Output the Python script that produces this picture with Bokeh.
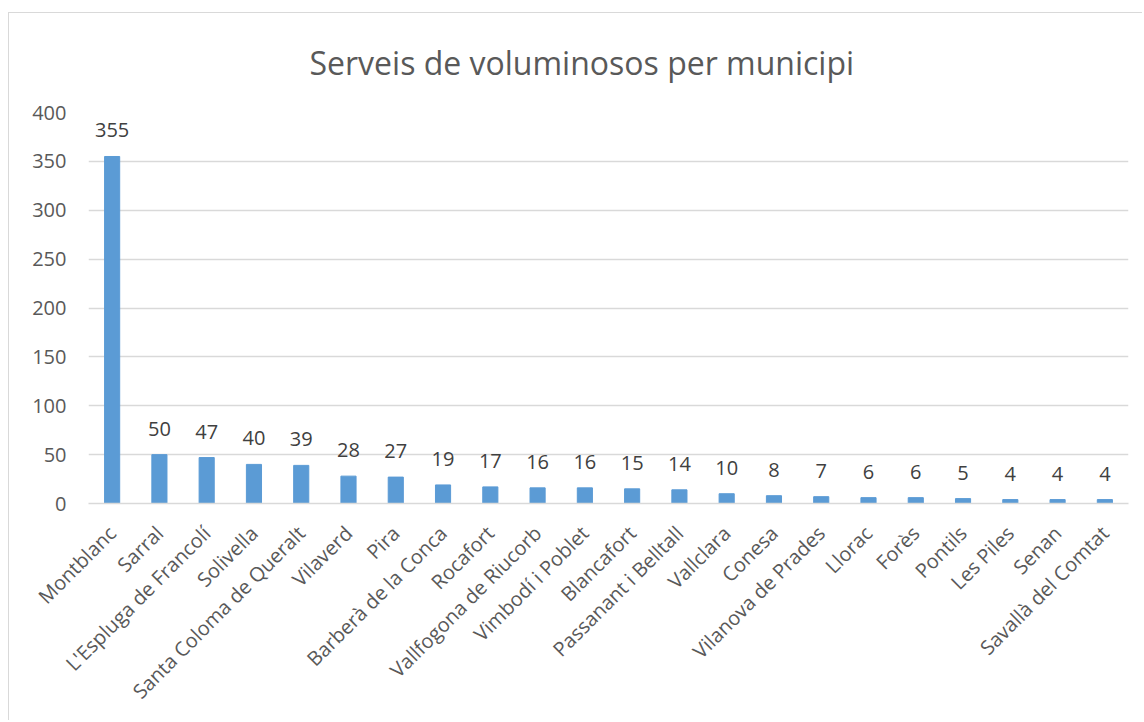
from bokeh.plotting import figure
from bokeh.models import Range1d, FactorRange, FixedTicker, ColumnDataSource
from bokeh.core.properties import value
from bokeh.embed import file_html
from bokeh.resources import INLINE
import math

municipis = ["Montblanc", "Sarral", "L'Espluga de Francolí", "Solivella", "Santa Coloma de Queralt",
             "Vilaverd", "Pira", "Barberà de la Conca", "Rocafort", "Vallfogona de Riucorb",
             "Vimbodí i Poblet", "Blancafort", "Passanant i Belltall", "Vallclara", "Conesa",
             "Vilanova de Prades", "Llorac", "Forès", "Pontils", "Les Piles", "Senan",
             "Savallà del Comtat"]
serveis = [355, 50, 47, 40, 39, 28, 27, 19, 17, 16, 16, 15, 14, 10, 8, 7, 6, 6, 5, 4, 4, 4]
y_ticks = [0, 50, 100, 150, 200, 250, 300, 350, 400]
titol = "Serveis de voluminosos per municipi"

FONT = "Open Sans"
GREY = "#595959"

src = ColumnDataSource(dict(x=municipis, y=serveis, lab=[str(v) for v in serveis]))

p = figure(x_range=FactorRange(*municipis, range_padding=0), y_range=Range1d(0, 400),
           width=1134, height=708, output_backend="svg", toolbar_location=None,
           min_border_left=79, min_border_right=15, min_border_top=99, min_border_bottom=218)
p.styles = {"border-left": "1px solid #d9d9d9", "border-top": "1px solid #d9d9d9",
            "margin-top": "12px", "margin-left": "8px"}

p.title.text = titol
p.title.align = "left"
p.title.offset = 221
p.title.text_font = FONT
p.title.text_font_size = "32px"
p.title.text_font_style = "normal"
p.title.text_color = GREY
p.title.vertical_align = "top"
p.title.standoff = 54

p.vbar(x="x", top="y", width=0.32, source=src, color="#5b9bd5")
p.text(x="x", y="y", text="lab", source=src, text_align="center", text_baseline="alphabetic",
       y_offset=-26, text_font=value(FONT), text_font_size="20px", text_color="#404040")

p.outline_line_color = None
p.background_fill_color = "white"
p.border_fill_color = "white"

p.yaxis.ticker = FixedTicker(ticks=y_ticks)
p.yaxis.axis_line_color = None
p.yaxis.major_tick_line_color = None
p.yaxis.minor_tick_line_color = None
p.yaxis.major_label_text_font = FONT
p.yaxis.major_label_text_font_size = "20px"
p.yaxis.major_label_text_color = GREY
p.yaxis.major_label_standoff = 16

p.xaxis.axis_line_color = "#d9d9d9"
p.xaxis.axis_line_width = 1.5
p.xaxis.major_tick_line_color = None
p.xaxis.minor_tick_line_color = None
p.xaxis.major_label_orientation = math.pi / 4
p.xaxis.major_label_text_font = FONT
p.xaxis.major_label_text_font_size = "20px"
p.xaxis.major_label_text_color = GREY
p.xaxis.major_label_standoff = 20

p.xgrid.grid_line_color = None
p.ygrid.grid_line_color = "#d9d9d9"
p.ygrid.grid_line_width = 1.5

open("out.html", "w").write(file_html(p, INLINE))
